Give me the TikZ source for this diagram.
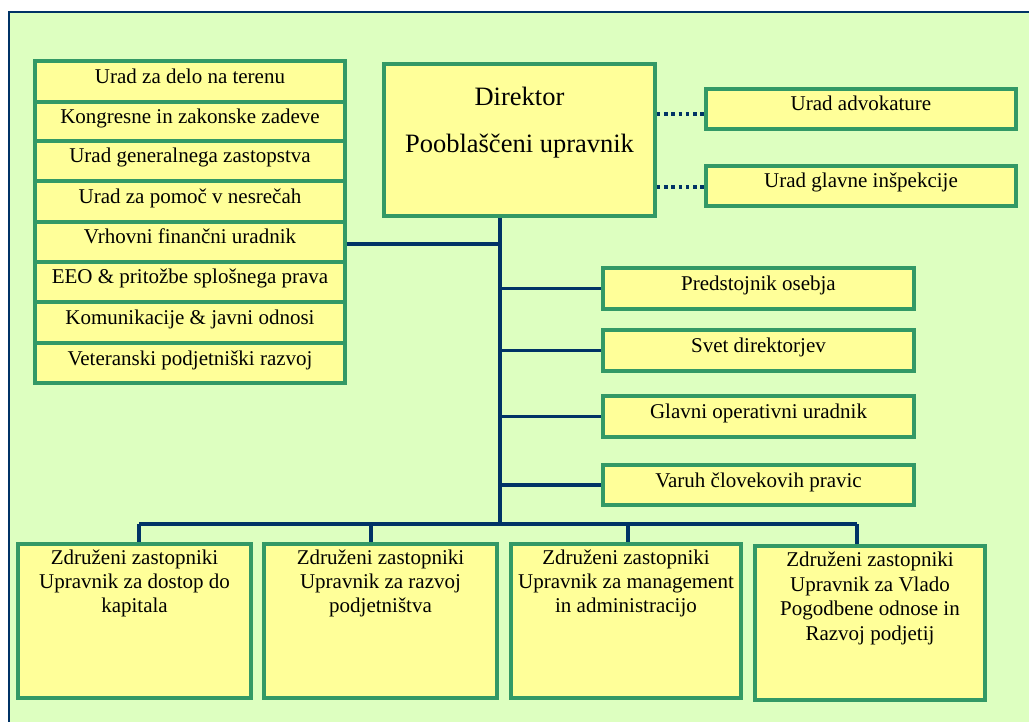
\documentclass[tikz,border=0pt]{standalone}
\usepackage{fontspec}
\setmainfont{Liberation Serif}
\definecolor{bggreen}{HTML}{DDFFC0}
\definecolor{boxyellow}{HTML}{FFFF99}
\definecolor{boxgreen}{HTML}{339966}
\definecolor{navy}{HTML}{003366}
\tikzset{
  box/.style={draw=boxgreen, line width=3.2pt, fill=boxyellow, rectangle, inner sep=0pt},
  onetext/.style={font=\fontsize{21}{24}\selectfont, text height=9pt, text depth=5pt},
  multitext/.style={font=\fontsize{21}{24}\selectfont, align=center, inner sep=0pt, anchor=north},
  conn/.style={draw=navy, line width=3.6pt},
  dotline/.style={draw=navy, line width=3.6pt, dash pattern=on 3.6pt off 3.7pt},
  frame/.style={draw=navy, line width=2.4pt, fill=bggreen}
}
\begin{document}
\begin{tikzpicture}[x=1pt, y=-1pt]
\useasboundingbox (0,0) rectangle (1029,722);
\clip (0,0) rectangle (1029,722);
\fill[white] (0,0) rectangle (1029,722);
\draw[frame] (9,12) rectangle (1045,745);

% left stack
\node[box, onetext, minimum width=310pt, minimum height=41pt] (r1) at (190,81.5) {Urad za delo na terenu};
\node[box, onetext, minimum width=310pt, minimum height=39pt] (r2) at (190,121.5) {Kongresne in zakonske zadeve};
\node[box, onetext, minimum width=310pt, minimum height=40pt] (r3) at (190,161) {Urad generalnega zastopstva};
\node[box, onetext, minimum width=310pt, minimum height=41pt] (r4) at (190,201.5) {Urad za pomoč v nesrečah};
\node[box, onetext, minimum width=310pt, minimum height=40pt] (r5) at (190,242) {Vrhovni finančni uradnik};
\node[box, onetext, minimum width=310pt, minimum height=40pt] (r6) at (190,282) {EEO \& pritožbe splošnega prava};
\node[box, onetext, minimum width=310pt, minimum height=41pt] (r7) at (190,322.5) {Komunikacije \& javni odnosi};
\node[box, onetext, minimum width=310pt, minimum height=40pt] (r8) at (190,363) {Veteranski podjetniški razvoj};

% director
\node[box, minimum width=271pt, minimum height=152pt] (dir) at (519.5,140) {};
\node[font=\fontsize{26.5}{47}\selectfont, align=center, inner sep=0pt, anchor=north] (dirtext) at (519.5,87) {Direktor\\Pooblaščeni upravnik};

% right top
\node[box, onetext, minimum width=310pt, minimum height=40pt] (u1) at (861,109) {Urad advokature};
\node[box, onetext, minimum width=310pt, minimum height=40pt] (u2) at (861,186) {Urad glavne inšpekcije};

% right middle
\node[box, onetext, minimum width=311pt, minimum height=41pt] (p1) at (758.5,288.5) {Predstojnik osebja};
\node[box, onetext, minimum width=311pt, minimum height=41pt] (p2) at (758.5,350.5) {Svet direktorjev};
\node[box, onetext, minimum width=311pt, minimum height=41pt] (p3) at (758.5,416.5) {Glavni operativni uradnik};
\node[box, onetext, minimum width=311pt, minimum height=40pt] (p4) at (758.5,485) {Varuh človekovih pravic};

% bottom boxes
\node[box, minimum width=233pt, minimum height=154pt] (b1) at (134.5,621) {};
\node[box, minimum width=233pt, minimum height=154pt] (b2) at (380.5,621) {};
\node[box, minimum width=230pt, minimum height=154pt] (b3) at (626,621) {};
\node[box, minimum width=230pt, minimum height=154pt] (b4) at (870,623) {};
\node[multitext] (b1t) at ([yshift=-7.5pt]b1.north) {Združeni zastopniki\\Upravnik za dostop do\\kapitala};
\node[multitext] (b2t) at ([yshift=-7.5pt]b2.north) {Združeni zastopniki\\Upravnik za razvoj\\podjetništva};
\node[multitext] (b3t) at ([yshift=-7.5pt]b3.north) {Združeni zastopniki\\Upravnik za management\\in administracijo};
\node[multitext, font=\fontsize{21}{24.5}\selectfont] (b4t) at ([yshift=-7.5pt]b4.north) {Združeni zastopniki\\Upravnik za Vlado\\Pogodbene odnose in\\Razvoj podjetij};

% connectors
\coordinate (tb) at (500,524);
\coordinate (d1) at (139,524);
\coordinate (d2) at (371,524);
\coordinate (d3) at (628,524);
\coordinate (d4) at (857,524);
\draw[conn] (tb |- dir.south) -- (tb);
\draw[conn] ([yshift=-2pt]r5.east) -- ([yshift=-2pt]tb |- r5.east);
\draw[conn] (tb |- p1.west) -- (p1.west);
\draw[conn] (tb |- p2.west) -- (p2.west);
\draw[conn] (tb |- p3.west) -- (p3.west);
\draw[conn] (tb |- p4.west) -- (p4.west);
\draw[conn] (d1) -- (d4);
\draw[conn] (d1) -- (d1 |- b1.north);
\draw[conn] (d2) -- (d2 |- b2.north);
\draw[conn] (d3) -- (d3 |- b3.north);
\draw[conn] (d4) -- (d4 |- b4.north);
\draw[dotline] ([yshift=-5pt]dir.east |- u1.west) -- ([yshift=-5pt]u1.west);
\draw[dotline] ([yshift=-1pt]dir.east |- u2.west) -- ([yshift=-1pt]u2.west);
\end{tikzpicture}
\end{document}
